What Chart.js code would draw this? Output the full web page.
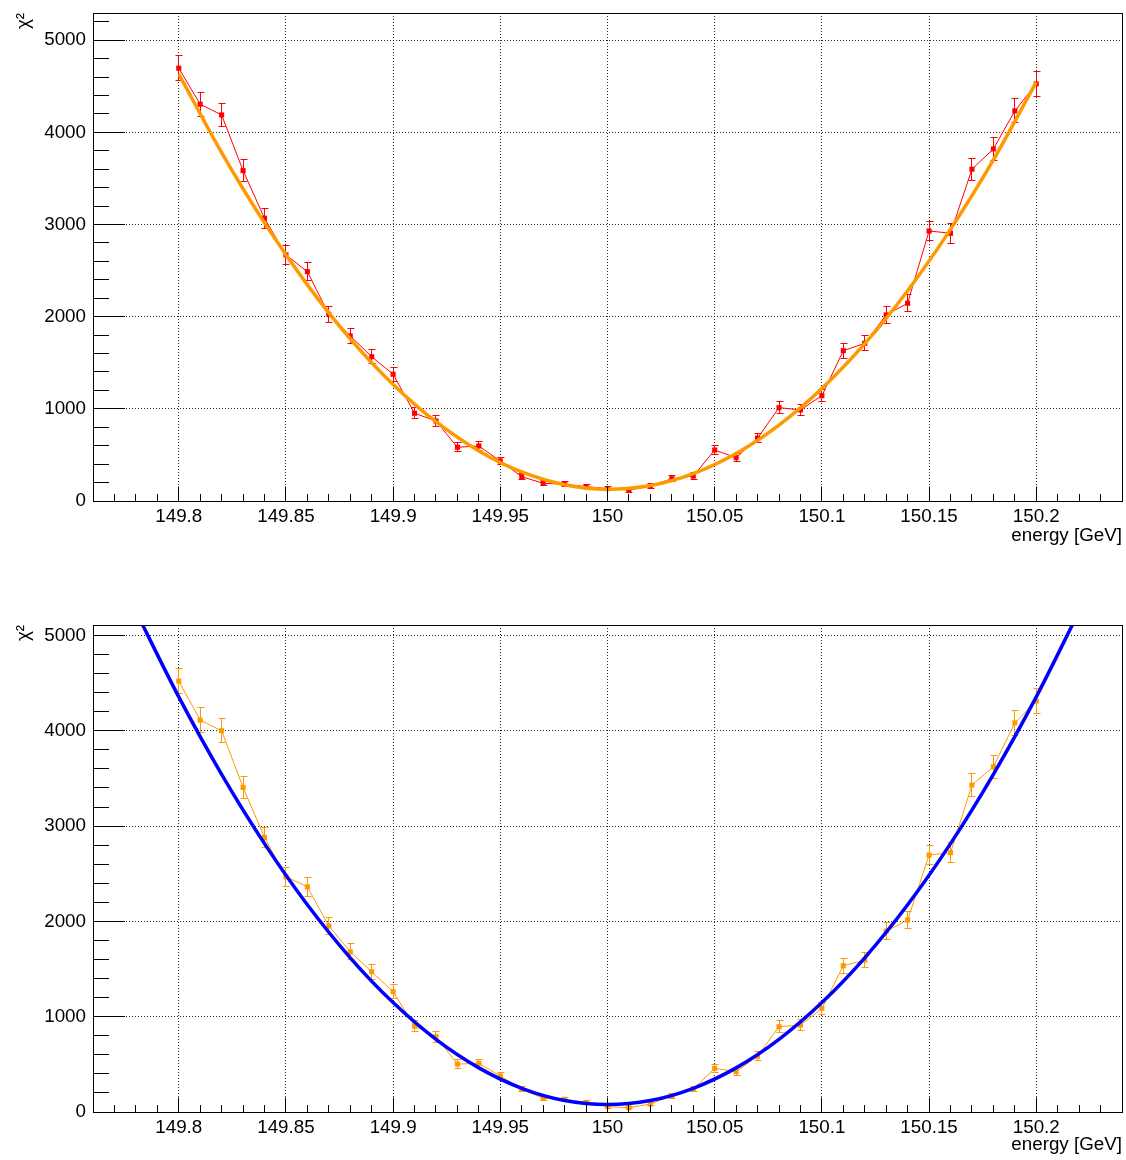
<!DOCTYPE html>
<html>
<head>
<meta charset="utf-8">
<title>chi2 vs energy</title>
<script src="https://cdn.jsdelivr.net/npm/chart.js@4.4.1/dist/chart.umd.min.js"></script>
<style>
  html, body { margin: 0; padding: 0; background: #fff; }
  #wrap { position: relative; width: 1126px; height: 1160px; }
  canvas { position: absolute; left: 0; }
  #topChart { top: 0; }
  #bottomChart { top: 560px; }
</style>
</head>
<body>
<div id="wrap">
  <canvas id="topChart" width="1126" height="560"></canvas>
  <canvas id="bottomChart" width="1126" height="600"></canvas>
</div>
<script>
// Scan points (beam energy, GeV)
const energy = [
  149.80, 149.81, 149.82, 149.83, 149.84, 149.85, 149.86, 149.87, 149.88, 149.89,
  149.90, 149.91, 149.92, 149.93, 149.94, 149.95, 149.96, 149.97, 149.98, 149.99,
  150.00, 150.01, 150.02, 150.03, 150.04, 150.05, 150.06, 150.07, 150.08, 150.09,
  150.10, 150.11, 150.12, 150.13, 150.14, 150.15, 150.16, 150.17, 150.18, 150.19,
  150.20
];

// Upper pad: chi2 scan (red) and its fitted parabola (orange)
const chi2Red = [
  4696, 4305, 4189, 3585, 3068, 2670, 2489, 2025, 1791, 1566,
  1375, 952, 868, 583, 597, 434, 264, 192, 181, 156,
  134, 119, 163, 242, 271, 553, 470, 682, 1013, 988,
  1143, 1631, 1711, 2019, 2146, 2930, 2905, 3600, 3820, 4233,
  4526
];
const chi2RedErr = [
  137, 131, 129, 120, 111, 103, 100, 90, 85, 79,
  74, 62, 59, 48, 49, 42, 32, 28, 27, 25,
  23, 22, 26, 31, 33, 47, 43, 52, 64, 63,
  68, 81, 83, 90, 93, 108, 108, 120, 124, 130,
  135
];
const fitTopEnergy = [
  149.80, 149.82, 149.84, 149.86, 149.88, 149.90, 149.92, 149.94, 149.96, 149.98,
  150.00, 150.02, 150.04, 150.06, 150.08, 150.10, 150.12, 150.14, 150.16, 150.18,
  150.20
];
const fitTopChi2 = [
  4633, 3781, 3018, 2345, 1760, 1265, 860, 543, 315, 177,
  128, 168, 298, 516, 824, 1221, 1707, 2282, 2947, 3701,
  4544
];

// Lower pad: chi2 scan (orange) and its fitted parabola (blue)
const chi2Orange = [
  4521, 4112, 4000, 3406, 2881, 2468, 2363, 1951, 1681, 1472,
  1262, 902, 790, 503, 510, 378, 241, 143, 133, 101,
  56, 45, 84, 171, 241, 458, 423, 585, 895, 913,
  1088, 1535, 1594, 1898, 2014, 2696, 2720, 3430, 3622, 4083,
  4311
];
const chi2OrangeErr = [
  134, 128, 126, 117, 107, 99, 97, 88, 82, 77,
  71, 60, 56, 45, 45, 39, 31, 24, 23, 20,
  15, 13, 18, 26, 31, 43, 41, 48, 60, 60,
  66, 78, 80, 87, 90, 104, 104, 117, 120, 128,
  131
];
const fitBottomEnergy = [
  149.78, 149.80, 149.82, 149.84, 149.86, 149.88, 149.90, 149.92, 149.94, 149.96,
  149.98, 150.00, 150.02, 150.04, 150.06, 150.08, 150.10, 150.12, 150.14, 150.16,
  150.18, 150.20, 150.22
];
const fitBottomChi2 = [
  5254, 4356, 3543, 2816, 2174, 1618, 1148, 762, 463, 249,
  121, 78, 121, 249, 463, 762, 1148, 1618, 2174, 2816,
  3543, 4356, 5254
];

// Axis ticks and titles
const xTickValues = [149.8, 149.85, 149.9, 149.95, 150, 150.05, 150.1, 150.15, 150.2];
const xTickLabels = ['149.8', '149.85', '149.9', '149.95', '150', '150.05', '150.1', '150.15', '150.2'];
const yTickValues = [0, 1000, 2000, 3000, 4000, 5000];
const yTickLabels = ['0', '1000', '2000', '3000', '4000', '5000'];
const xTitle = 'energy [GeV]';
const yTitle = 'χ²';

const FONT = { family: "'Liberation Sans', Arial, sans-serif", size: 18.8 };
const RED = '#ff0000';
const ORANGE = '#ff9900';
const BLUE = '#0000ff';

const align = v => Math.round(v - 0.5) + 0.5;

// Error bars with end caps, drawn right after the scan dataset
function errorBarPlugin(dsIndex, errors, color) {
  return {
    id: 'errorBars',
    afterDatasetDraw(chart, args) {
      if (args.index !== dsIndex) return;
      const meta = chart.getDatasetMeta(dsIndex);
      const ys = chart.scales.y;
      const pts = chart.data.datasets[dsIndex].data;
      const ctx = chart.ctx;
      ctx.save();
      ctx.strokeStyle = color;
      ctx.lineWidth = 1;
      ctx.beginPath();
      meta.data.forEach((el, i) => {
        const x = align(el.x);
        const yHi = align(ys.getPixelForValue(pts[i].y + errors[i]));
        const yLo = align(ys.getPixelForValue(pts[i].y - errors[i]));
        ctx.moveTo(x, yHi); ctx.lineTo(x, yLo);
        ctx.moveTo(x - 3, yHi); ctx.lineTo(x + 4, yHi);
        ctx.moveTo(x - 3, yLo); ctx.lineTo(x + 4, yLo);
      });
      ctx.stroke();
      ctx.restore();
    }
  };
}

// Frame box plus tick marks pointing into the plot area
const framePlugin = {
  id: 'frame',
  afterDatasetsDraw(chart) {
    const { ctx, chartArea: a, scales: { x, y } } = chart;
    ctx.save();
    ctx.strokeStyle = '#000';
    ctx.lineWidth = 1;
    ctx.beginPath();
    const kFirst = Math.ceil(x.min * 100 - 1e-6);
    const kLast = Math.floor(x.max * 100 + 1e-6);
    for (let k = kFirst; k <= kLast; k++) {
      const px = align(x.getPixelForValue(k / 100));
      const len = (k % 5 === 0) ? 14.5 : 7;
      ctx.moveTo(px, a.bottom); ctx.lineTo(px, a.bottom - len);
    }
    for (let v = 0; v <= y.max; v += 200) {
      const py = align(y.getPixelForValue(v));
      const len = (v % 1000 === 0) ? 32 : 16;
      ctx.moveTo(a.left, py); ctx.lineTo(a.left + len, py);
    }
    ctx.stroke();
    ctx.strokeRect(align(a.left), align(a.top), Math.round(a.right - a.left), Math.round(a.bottom - a.top));
    ctx.restore();
  }
};

function makeChart(canvasId, cfg) {
  const scanData = energy.map((e, i) => ({ x: e, y: cfg.scan[i] }));
  const fitData = cfg.fitE.map((e, i) => ({ x: e, y: cfg.fitY[i] }));
  return new Chart(document.getElementById(canvasId), {
    type: 'line',
    data: {
      datasets: [
        {
          data: scanData,
          borderColor: cfg.scanColor,
          borderWidth: 1,
          backgroundColor: cfg.scanColor,
          pointStyle: 'rect',
          pointRadius: 3.6,
          pointBorderWidth: 0,
          pointBackgroundColor: cfg.scanColor,
          tension: 0,
          clip: 0,
          order: 1
        },
        {
          data: fitData,
          borderColor: cfg.fitColor,
          borderWidth: 3.5,
          pointRadius: 0,
          cubicInterpolationMode: 'monotone',
          clip: 0,
          order: 0
        }
      ]
    },
    options: {
      responsive: false,
      animation: false,
      events: [],
      layout: { padding: { left: 0, right: 4, top: cfg.padTop, bottom: 0 } },
      plugins: { legend: { display: false }, tooltip: { enabled: false } },
      scales: {
        x: {
          type: 'linear',
          min: 149.76,
          max: 150.24,
          afterBuildTicks: s => { s.ticks = xTickValues.map(v => ({ value: v })); },
          afterFit: s => {
            s.height = cfg.xAxisHeight;
            s.paddingLeft = s.paddingRight = s.paddingTop = s.paddingBottom = 0;
          },
          ticks: {
            autoSkip: false,
            maxRotation: 0,
            padding: 5,
            color: '#000',
            font: FONT,
            callback: (v, i) => xTickLabels[i]
          },
          grid: { color: 'rgba(0,0,0,0.85)', lineWidth: 1, drawTicks: false },
          border: { display: false, dash: [1, 2] },
          title: {
            display: true,
            text: xTitle,
            align: 'end',
            color: '#000',
            font: FONT,
            padding: { top: 0, bottom: cfg.xTitlePad }
          }
        },
        y: {
          type: 'linear',
          min: 0,
          max: cfg.yMax,
          afterBuildTicks: s => { s.ticks = yTickValues.map(v => ({ value: v })); },
          afterFit: s => {
            s.width = 93;
            s.paddingLeft = s.paddingRight = s.paddingTop = s.paddingBottom = 0;
          },
          ticks: {
            autoSkip: false,
            padding: 7,
            color: '#000',
            font: FONT,
            callback: (v, i) => yTickLabels[i]
          },
          grid: { color: 'rgba(0,0,0,0.85)', lineWidth: 1, drawTicks: false },
          border: { display: false, dash: [1, 2] },
          title: {
            display: true,
            text: yTitle,
            align: 'end',
            color: '#000',
            font: FONT,
            padding: { top: 13, bottom: 0 }
          }
        }
      }
    },
    plugins: [errorBarPlugin(0, cfg.err, cfg.scanColor), framePlugin]
  });
}

makeChart('topChart', {
  scan: chi2Red, err: chi2RedErr, scanColor: RED,
  fitE: fitTopEnergy, fitY: fitTopChi2, fitColor: ORANGE,
  yMax: 5295, padTop: 13, xAxisHeight: 59, xTitlePad: 13
});

makeChart('bottomChart', {
  scan: chi2Orange, err: chi2OrangeErr, scanColor: ORANGE,
  fitE: fitBottomEnergy, fitY: fitBottomChi2, fitColor: BLUE,
  yMax: 5110, padTop: 65, xAxisHeight: 48, xTitlePad: 4
});
</script>
</body>
</html>
